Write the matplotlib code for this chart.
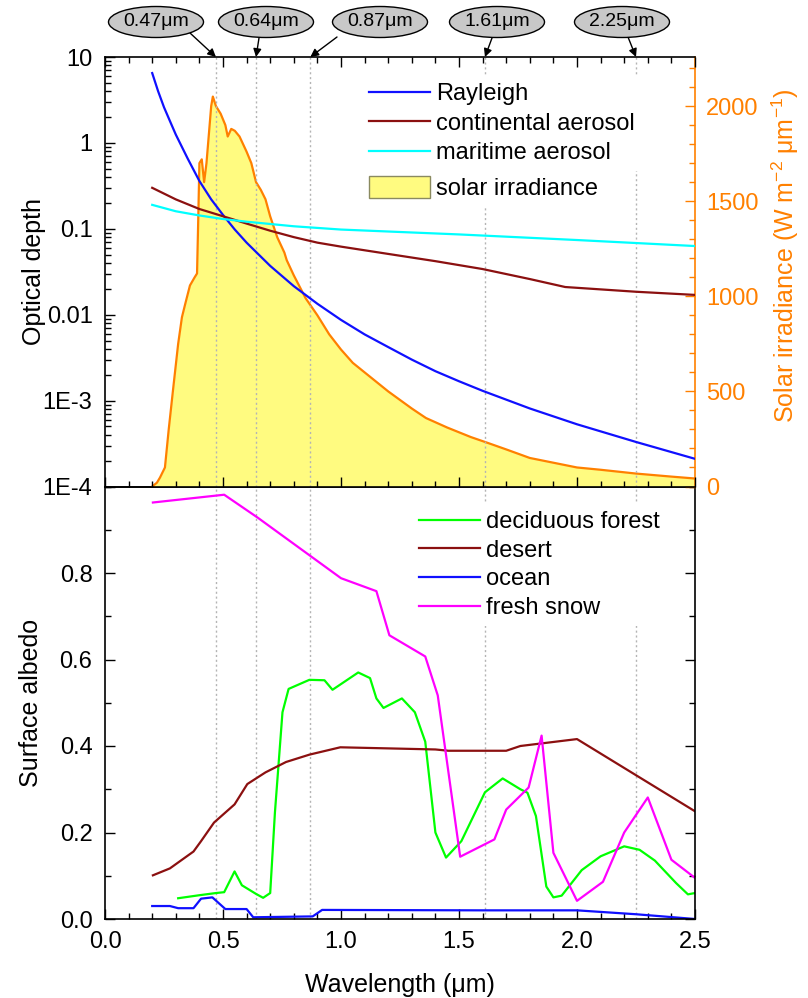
import matplotlib
matplotlib.use("Agg")
import matplotlib.pyplot as plt
from matplotlib.ticker import (FixedLocator, FixedFormatter, MultipleLocator, NullFormatter,
                               FormatStrFormatter, LogLocator)
from matplotlib.patches import Patch, Ellipse
from matplotlib.lines import Line2D
from matplotlib.transforms import IdentityTransform

plt.rcParams['font.family'] = ['Liberation Sans', 'DejaVu Sans']
plt.rcParams['mathtext.fontset'] = 'custom'
plt.rcParams['mathtext.rm'] = 'Liberation Sans'
plt.rcParams['mathtext.it'] = 'Liberation Sans'

# ---------------- data ----------------
ray_wl = [0.2, 0.225, 0.25, 0.275, 0.3, 0.35, 0.4, 0.45, 0.5, 0.55, 0.6, 0.7, 0.8, 0.9,
          1.0, 1.1, 1.2, 1.3, 1.4, 1.5, 1.6, 1.8, 2.0, 2.25, 2.5]
ray_tau = [6.5, 4.0, 2.6, 1.8, 1.25, 0.66, 0.36, 0.22, 0.145, 0.098, 0.069, 0.037, 0.0215, 0.0134,
           0.0087, 0.0059, 0.0042, 0.0030, 0.0022, 0.00168, 0.0013, 0.00081, 0.00053, 0.00033, 0.00021]

cont_wl = [0.2, 0.3, 0.4, 0.5, 0.6, 0.7, 0.8, 0.9, 1.0, 1.2, 1.4, 1.6, 1.8, 1.95, 2.25, 2.5]
cont_tau = [0.30, 0.22, 0.17, 0.14, 0.115, 0.095, 0.08, 0.069, 0.062, 0.051, 0.042, 0.034, 0.026,
            0.021, 0.0185, 0.017]

mar_wl = [0.2, 0.3, 0.4, 0.5, 0.6, 0.8, 1.0, 1.2, 1.5, 2.0, 2.5]
mar_tau = [0.19, 0.16, 0.143, 0.13, 0.121, 0.107, 0.098, 0.093, 0.086, 0.074, 0.063]

sol_wl = [0.20, 0.22, 0.233, 0.254, 0.27, 0.288, 0.31, 0.326, 0.34, 0.36, 0.38, 0.39, 0.395, 0.40, 0.41,
          0.42, 0.43, 0.45, 0.457, 0.47, 0.49, 0.51, 0.52, 0.535, 0.55, 0.57, 0.60, 0.62, 0.64,
          0.66, 0.68, 0.70, 0.73, 0.76, 0.77, 0.80, 0.85, 0.90, 0.95, 1.00, 1.05, 1.10, 1.15,
          1.20, 1.25, 1.30, 1.36, 1.45, 1.55, 1.62, 1.70, 1.80, 1.90, 2.00, 2.10, 2.25, 2.40, 2.50]
sol_irr = [0, 20, 47, 100, 300, 505, 750, 890, 960, 1057, 1100, 1120, 1400, 1700, 1720,
           1600, 1700, 2000, 2050, 2000, 1960, 1900, 1840, 1880, 1870, 1840, 1760, 1700, 1600,
           1560, 1510, 1420, 1310, 1230, 1190, 1110, 990, 900, 800, 720, 650, 600, 550,
           500, 455, 410, 360, 310, 260, 230, 195, 150, 125, 100, 88, 68, 52, 42]

forest_wl = [0.31, 0.40, 0.47, 0.505, 0.549, 0.58, 0.64, 0.67, 0.70, 0.72, 0.752, 0.778, 0.866,
             0.93, 0.964, 1.073, 1.123, 1.15, 1.18, 1.258, 1.313, 1.357, 1.40, 1.445, 1.51,
             1.61, 1.685, 1.76, 1.79, 1.826, 1.87, 1.90, 1.935, 2.02, 2.10, 2.20, 2.265, 2.33,
             2.42, 2.47, 2.5]
forest_alb = [0.048, 0.055, 0.06, 0.062, 0.11, 0.078, 0.058, 0.049, 0.06, 0.246, 0.478, 0.532, 0.553,
              0.552, 0.53, 0.57, 0.557, 0.51, 0.488, 0.51, 0.478, 0.41, 0.2, 0.142, 0.18,
              0.293, 0.325, 0.30, 0.292, 0.238, 0.075, 0.05, 0.054, 0.113, 0.145, 0.168, 0.16, 0.135,
              0.083, 0.057, 0.06]

desert_wl = [0.203, 0.275, 0.375, 0.407, 0.462, 0.549, 0.603, 0.68, 0.767, 0.866, 0.997, 1.4,
             1.455, 1.70, 1.76, 2.0, 2.5]
desert_alb = [0.101, 0.117, 0.156, 0.18, 0.223, 0.265, 0.312, 0.339, 0.363, 0.38, 0.397, 0.392,
              0.389, 0.389, 0.40, 0.416, 0.249]

ocean_wl = [0.2, 0.275, 0.31, 0.375, 0.407, 0.455, 0.51, 0.6, 0.628, 0.88, 0.92, 1.6, 2.0, 2.25, 2.5]
ocean_alb = [0.03, 0.03, 0.025, 0.025, 0.047, 0.05, 0.023, 0.023, 0.004, 0.006, 0.021, 0.02, 0.02,
             0.011, 0.0]

snow_wl = [0.203, 0.505, 0.647, 1.0, 1.15, 1.205, 1.357, 1.41, 1.505, 1.65, 1.70, 1.795, 1.85,
           1.90, 2.0, 2.11, 2.2, 2.30, 2.40, 2.5]
snow_alb = [0.963, 0.981, 0.928, 0.788, 0.758, 0.656, 0.607, 0.517, 0.144, 0.184, 0.253, 0.304,
            0.424, 0.153, 0.042, 0.086, 0.2, 0.281, 0.137, 0.095]

marker_wl = [0.47, 0.64, 0.87, 1.61, 2.25]
marker_labels = ['0.47μm', '0.64μm', '0.87μm', '1.61μm', '2.25μm']

top_ticklabels = ['1E-4', '1E-3', '0.01', '0.1', '1', '10']
top_tickvals = [1e-4, 1e-3, 1e-2, 1e-1, 1, 10]

# ---------------- style ----------------
ORANGE = '#FF8000'
BROWN = '#8B1010'
BLUE = '#1010FF'
CYAN = '#00FFFF'
YELLOW = '#FFFB80'
FS = 17
W, H = 808, 998
fig = plt.figure(figsize=(W / 100, H / 100), dpi=100)

L, R = 105 / W, 695 / W
ax1 = fig.add_axes([L, 1 - 486.5 / H, R - L, (486.5 - 57) / H])
ax2 = fig.add_axes([L, 1 - 919 / H, R - L, (919 - 486.5) / H], sharex=ax1)
ax1r = ax1.twinx()
ax1.set_zorder(ax1r.get_zorder() + 1)
ax1.patch.set_visible(False)

# solar irradiance (right axis)
ax1r.fill_between(sol_wl, sol_irr, 0, color=YELLOW, lw=0, zorder=1)
ax1r.plot(sol_wl, sol_irr, color=ORANGE, lw=1.6, zorder=2)
ax1r.set_ylim(0, 2258)
ax1r.yaxis.set_major_locator(MultipleLocator(500))
ax1r.yaxis.set_minor_locator(MultipleLocator(100))
ax1r.tick_params(axis='y', which='both', direction='in', colors=ORANGE, labelsize=FS, pad=8)
ax1r.tick_params(axis='y', which='major', length=7, width=1)
ax1r.tick_params(axis='y', which='minor', length=4, width=1)
ax1r.spines['right'].set_color(ORANGE)
ax1r.spines['right'].set_linewidth(1.2)
for s in ['left', 'top', 'bottom']:
    ax1r.spines[s].set_visible(False)
ax1r.set_ylabel('Solar irradiance (W m$^{-2}$ μm$^{-1}$)', color=ORANGE, fontsize=18, labelpad=8)
ax1r.yaxis.label.set_y(0.537)

# vertical marker lines
for ax in (ax1, ax2):
    for wl in marker_wl:
        ax.axvline(wl, color='#b4b4b4', lw=1, ls=(0, (1.5, 2)), zorder=0)

# optical depths
ax1.plot(ray_wl, ray_tau, color=BLUE, lw=1.6, zorder=3)
ax1.plot(cont_wl, cont_tau, color=BROWN, lw=1.6, zorder=3)
ax1.plot(mar_wl, mar_tau, color=CYAN, lw=1.6, zorder=3)
ax1.set_yscale('log')
ax1.set_ylim(1e-4, 10)
ax1.yaxis.set_major_locator(FixedLocator(top_tickvals))
ax1.yaxis.set_major_formatter(FixedFormatter(top_ticklabels))
ax1.yaxis.set_minor_locator(LogLocator(base=10, subs=range(2, 10), numticks=20))
ax1.yaxis.set_minor_formatter(NullFormatter())
ax1.spines['right'].set_visible(False)
ax1.set_ylabel('Optical depth', fontsize=18, labelpad=-2)

leg_kw = dict(fontsize=FS, frameon=True, facecolor='white', edgecolor='none', framealpha=1,
              handlelength=2.6, handletextpad=0.25, borderpad=0.3, borderaxespad=0,
              fancybox=False, bbox_transform=fig.transFigure)
line_handles = [Line2D([], [], color=BLUE, lw=1.6),
                Line2D([], [], color=BROWN, lw=1.6),
                Line2D([], [], color=CYAN, lw=1.6)]
leg1 = ax1.legend(line_handles, ['Rayleigh', 'continental aerosol', 'maritime aerosol'],
                  loc='upper left', bbox_to_anchor=(362 / W, 1 - 76 / H), labelspacing=0.32,
                  **leg_kw)
ax1.add_artist(leg1)
ax1.legend([Patch(facecolor=YELLOW, edgecolor='#8a8a60', lw=1)], ['solar irradiance'],
           loc='center left', bbox_to_anchor=(362 / W, 1 - 188 / H), handleheight=1.1,
           **leg_kw)

# surface albedo
ax2.plot(forest_wl, forest_alb, color='#00FF00', lw=1.6, label='deciduous forest')
ax2.plot(desert_wl, desert_alb, color=BROWN, lw=1.6, label='desert')
ax2.plot(ocean_wl, ocean_alb, color=BLUE, lw=1.6, label='ocean')
ax2.plot(snow_wl, snow_alb, color='#FF00FF', lw=1.6, label='fresh snow')
ax2.set_ylim(0, 1.0)
ax2.set_xlim(0, 2.5)
ax2.yaxis.set_major_locator(FixedLocator([0, 0.2, 0.4, 0.6, 0.8]))
ax2.yaxis.set_major_formatter(FormatStrFormatter('%.1f'))
ax2.yaxis.set_minor_locator(MultipleLocator(0.1))
ax2.xaxis.set_major_locator(MultipleLocator(0.5))
ax2.xaxis.set_major_formatter(FormatStrFormatter('%.1f'))
ax2.xaxis.set_minor_locator(MultipleLocator(0.1))
ax2.set_ylabel('Surface albedo', fontsize=18, labelpad=12)
ax2.set_xlabel('Wavelength (μm)', fontsize=18, labelpad=14)
ax2.legend(loc='upper left', bbox_to_anchor=(412 / W, 1 - 504 / H), labelspacing=0.28, **leg_kw)

for ax in (ax1, ax2):
    ax.tick_params(which='both', direction='in', labelsize=FS, width=1, pad=9)
    ax.tick_params(which='major', length=7)
    ax.tick_params(which='minor', length=4)
    for s in ['left', 'top', 'bottom', 'right']:
        if ax.spines[s].get_visible():
            ax.spines[s].set_linewidth(1.2)
ax1.tick_params(axis='x', which='both', top=True, bottom=True, labelbottom=False)
ax2.tick_params(axis='y', which='both', left=True, right=True)
ax2.tick_params(axis='x', which='both', top=False, bottom=True)

# ellipse callouts (pixel layout of the reference)
centers_px = [156, 266, 380, 497, 622]
arrow_start_px = [(190, 33), (259, 38), (337, 37), (492, 38), (628, 37)]
for wl, lab, cx, (sx, sy) in zip(marker_wl, marker_labels, centers_px, arrow_start_px):
    fig.add_artist(Ellipse((cx, H - 22), 95, 31, transform=IdentityTransform(),
                           facecolor='#c8c8c8', edgecolor='black', lw=1, zorder=5))
    fig.text(cx / W, 1 - 22 / H, lab, ha='center', va='center', fontsize=14, zorder=6)
    ax1.annotate('', xy=(wl, 1.0), xycoords=('data', 'axes fraction'),
                 xytext=(sx, H - sy), textcoords='figure pixels',
                 arrowprops=dict(arrowstyle='-|>', color='black', lw=1, mutation_scale=12,
                                 shrinkA=0, shrinkB=0),
                 annotation_clip=False)

fig.savefig('out.png', dpi=100)
